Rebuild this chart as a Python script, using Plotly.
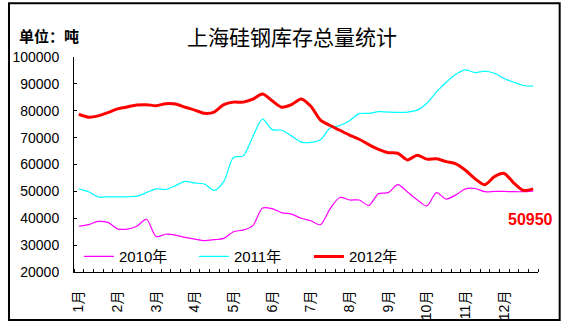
import plotly.graph_objects as go

# ---- data (weekly, 4 weeks per month) ----
months = ["1月", "2月", "3月", "4月", "5月", "6月", "7月", "8月", "9月", "10月", "11月", "12月"]
weeks_per_month = 4

stock_2010 = [37020, 37620, 38810, 38450, 36070, 35950, 37020, 39640, 33210, 34050, 33690, 32860,
              32260, 31670, 32020, 32500, 35000, 35590, 37260, 43810, 43570, 42020, 41550, 40000,
              39050, 37620, 43570, 47740, 46790, 46790, 44760, 49170, 49520, 52500, 49760, 46900,
              44600, 49520, 47140, 48690, 50950, 51070, 49880, 50000, 50000, 49880, 49880, 50120]
stock_2011 = [50950, 49880, 47980, 47980, 47980, 47980, 48210, 49520, 50950, 50710, 52140, 53690,
              53100, 52740, 50360, 53690, 62620, 63210, 70360, 76900, 72980, 72740, 70600, 68330,
              68210, 69170, 73570, 74520, 76310, 78930, 79050, 79640, 79520, 79400, 79520, 80240,
              82800, 87020, 90600, 93570, 95240, 94170, 94760, 93930, 92020, 90600, 89400, 89170]
stock_2012 = [78690, 77620, 78100, 79290, 80710, 81430, 82140, 82260, 81900, 82620, 82500, 81310,
              80240, 79050, 79520, 82260, 83210, 83210, 84290, 86190, 83690, 81310, 82260, 84400,
              81670, 76550, 74520, 72740, 70950, 69400, 67380, 65600, 64400, 64170, 61670, 63450,
              62000, 62140, 61070, 60240, 57860, 54640, 52500, 55480, 56670, 53100, 50360, 50950]

series_names = ["2010年", "2011年", "2012年"]
series_colors = ["#FF00FF", "#00FFFF", "#FF0000"]
series_widths = [1.2, 1.2, 3]

n = len(stock_2010)
weeks = list(range(n))

W, H = 561, 332
ml, mr, mt, mb = 67, 23, 57, 51
pw, ph = W - ml - mr, H - mt - mb

def px_x(p):
    return (p - ml) / pw

def px_y(p):
    return (H - mb - p) / ph

fig = go.Figure()
for name, vals, col, w in zip(series_names, [stock_2010, stock_2011, stock_2012], series_colors, series_widths):
    fig.add_trace(go.Scatter(x=weeks, y=vals, mode="lines", name=name,
                             line=dict(color=col, width=w, shape="spline", smoothing=0.8)))

base_font = "Liberation Sans, Arial, Noto Sans CJK SC, sans-serif"

fig.update_layout(
    width=W, height=H,
    margin=dict(l=ml, r=mr, t=mt, b=mb),
    paper_bgcolor="white", plot_bgcolor="white",
    font=dict(family=base_font, color="black", size=14),
    title=dict(text="上海硅钢库存总量统计", x=292 / W, xref="container", xanchor="center",
               y=1 - 38 / H, yref="container", yanchor="middle",
               font=dict(family="Noto Sans CJK SC, sans-serif", size=21, color="black")),
    showlegend=True,
    legend=dict(orientation="h", x=px_x(72), xanchor="left", y=px_y(265), yanchor="middle",
                bgcolor="rgba(0,0,0,0)", font=dict(size=15), entrywidth=70,
                itemwidth=30),
    xaxis=dict(range=[-0.5, n - 0.5], showline=True, linecolor="black", linewidth=1,
               showgrid=False, zeroline=False, ticks="",
               tickmode="array",
               tickvals=[i * weeks_per_month for i in range(len(months))],
               ticktext=months, tickangle=-90, tickfont=dict(size=14),
               ticklabelstandoff=12,
               minor=dict(ticks="inside", ticklen=3, tickcolor="black", tick0=-0.5, dtick=1,
                          showgrid=False)),
    yaxis=dict(range=[20000, 100000], dtick=10000, tickformat="d", showline=True, linecolor="black",
               linewidth=1, showgrid=False, zeroline=False, ticks="inside", ticklen=3,
               tickcolor="black", tickfont=dict(size=14), ticklabelstandoff=11),
)

fig.add_annotation(text="单位：吨", xref="paper", yref="paper", x=px_x(9), y=px_y(35),
                   xanchor="left", yanchor="middle", showarrow=False,
                   font=dict(family="Noto Sans CJK SC, sans-serif", size=15, color="black", weight="bold"))

fig.add_annotation(text=str(stock_2012[-1]), xref="paper", yref="paper", x=px_x(530), y=px_y(226.5),
                   xanchor="center", yanchor="middle", showarrow=False,
                   font=dict(family=base_font, size=16, color="#FF0000", weight="bold"))

fig.add_shape(type="rect", xref="paper", yref="paper",
              x0=px_x(1), x1=px_x(560), y0=px_y(331), y1=px_y(1),
              line=dict(color="black", width=2), fillcolor="rgba(0,0,0,0)")

fig.write_html("out.html")
